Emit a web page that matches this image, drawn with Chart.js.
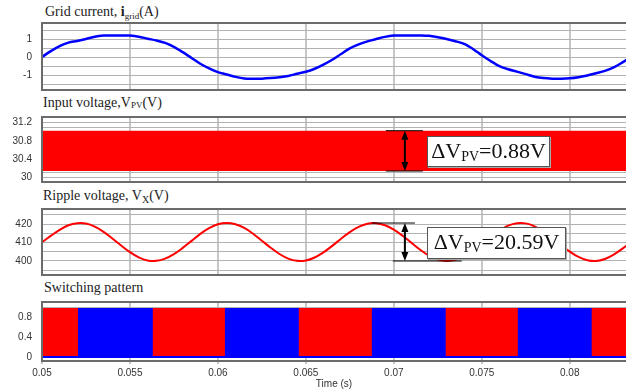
<!DOCTYPE html>
<html>
<head>
<meta charset="utf-8">
<script src="https://cdn.jsdelivr.net/npm/chart.js@4.4.1/dist/chart.umd.min.js"></script>
<style>
body { margin: 0; background: #fff; width: 626px; height: 390px; overflow: hidden; position: relative; font-family: "Liberation Serif", "Times New Roman", serif; }
canvas { position: absolute; left: 0; }
.ttl { position: absolute; font-size: 14px; line-height: 14px; color: #222; white-space: nowrap; }
.ttl sub { line-height: 0; }
.box { position: absolute; background: #fff; border: 1px solid #555; box-shadow: 1px 1px 0 #aaa; font-size: 22px; line-height: 28px; text-align: center; color: #111; white-space: nowrap; }
.box sub { font-size: 14px; line-height: 0; vertical-align: -3px; }
</style>
</head>
<body>
<div class="ttl" style="left:45px;top:5px">Grid current, <b>i</b><sub style="font-size:9px;vertical-align:-3px">grid</sub>(A)</div>
<div class="ttl" style="left:43px;top:96px">Input voltage,V<sub style="font-size:9px;vertical-align:-1px">PV</sub>(V)</div>
<div class="ttl" style="left:43px;top:189px">Ripple voltage, V<sub style="font-size:10px;vertical-align:-3px">X</sub>(V)</div>
<div class="ttl" style="left:44px;top:281px">Switching pattern</div>

<canvas id="c1" width="626" height="75" style="top:19px"></canvas>
<canvas id="c2" width="626" height="73" style="top:113px"></canvas>
<canvas id="c3" width="626" height="74" style="top:205px"></canvas>
<canvas id="c4" width="626" height="92" style="top:298px"></canvas>

<div class="box" style="left:427px;top:136px;width:121px;height:29px">ΔV<sub>PV</sub>=0.88V</div>
<div class="box" style="left:427px;top:227px;width:137px;height:30px">ΔV<sub>PV</sub>=20.59V</div>

<script>
// sampling of the traces
const t0 = 0.05;
const dt = 0.0005;
const xMin = 0.05;
const xMax = 0.0832;
const xTicks = [0.05, 0.055, 0.06, 0.065, 0.07, 0.075, 0.08];

// grid current (A), read every 0.5 ms
const gridCurrent = [
  0, 0.33, 0.61, 0.8, 0.89, 1.0, 1.13, 1.19, 1.2, 1.2,
  1.19, 1.13, 1.02, 0.92, 0.79, 0.57, 0.27, -0.05, -0.37, -0.63,
  -0.84, -0.97, -1.1, -1.19, -1.2, -1.2, -1.17, -1.12, -1.05, -0.93,
  -0.82, -0.65, -0.42, -0.15, 0.17, 0.48, 0.7, 0.87, 1.0, 1.12,
  1.19, 1.2, 1.2, 1.2, 1.18, 1.1, 1.0, 0.88, 0.73, 0.45,
  0.1, -0.22, -0.5, -0.68, -0.81, -0.95, -1.09, -1.17, -1.2, -1.2,
  -1.18, -1.12, -1.02, -0.9, -0.77, -0.58, -0.3, 0.0
];

// input voltage band (V)
const vpvHigh = 31.02;
const vpvLow = 30.14;

// ripple voltage (V), read every 0.5 ms
const rippleVoltage = [
  410.2, 413.6, 416.9, 419.4, 420.5, 420.3, 418.6, 415.8, 412.2, 408.4,
  404.8, 402.0, 400.3, 400.1, 401.3, 403.7, 407.1, 410.9, 414.7, 417.8,
  419.9, 420.6, 419.9, 417.9, 414.8, 411.0, 407.2, 403.8, 401.3, 400.1,
  400.3, 401.9, 404.7, 408.2, 412.1, 415.7, 418.5, 420.2, 420.5, 419.4,
  417.0, 413.7, 409.9, 406.1, 402.9, 400.8, 400.0, 400.6, 402.6, 405.7,
  409.4, 413.2, 416.6, 419.2, 420.5, 420.4, 418.8, 416.1, 412.5, 408.7,
  405.1, 402.2, 400.4, 400.0, 401.1, 403.5, 406.7, 410.5
];

// switching pattern: red leg on (1) / off (0) from each time on
const switchTimes = [0.05, 0.05205, 0.0563, 0.0604, 0.0646, 0.06875, 0.07295, 0.07705, 0.08125, 0.0832];
const switchState = [1, 0, 1, 0, 1, 0, 1, 0, 1, 1];
const swHigh = 1;
const swRedLow = 0.02;
const swBlueLow = -0.02;

const sampleTimes = gridCurrent.map((_, i) => t0 + i * dt);
const xy = (ts, vs) => ts.map((t, i) => ({ x: t, y: vs[i] }));

const tickFont = { family: 'Liberation Sans, Arial, sans-serif', size: 10 };

// frame around the plot area
const frame = {
  id: 'frame',
  afterDraw(chart) {
    const { ctx, chartArea: a } = chart;
    ctx.save();
    ctx.strokeStyle = '#6b6b6b';
    ctx.lineWidth = 2;
    ctx.beginPath();
    ctx.moveTo(a.right + 2, a.top);
    ctx.lineTo(a.left, a.top);
    ctx.lineTo(a.left, a.bottom);
    ctx.lineTo(a.right + 2, a.bottom);
    ctx.stroke();
    ctx.restore();
  }
};

// double arrow showing a peak-to-peak span
const span = {
  id: 'span',
  afterDatasetsDraw(chart, args, o) {
    if (!o || o.at === undefined) return;
    const { ctx, scales: { x, y } } = chart;
    const px = x.getPixelForValue(o.at);
    const yt = y.getPixelForValue(o.top);
    const yb = y.getPixelForValue(o.bottom);
    ctx.save();
    ctx.strokeStyle = '#000';
    ctx.fillStyle = '#000';
    ctx.lineWidth = 1;
    ctx.beginPath();
    ctx.moveTo(x.getPixelForValue(o.topFrom), yt);
    ctx.lineTo(x.getPixelForValue(o.topTo), yt);
    ctx.moveTo(x.getPixelForValue(o.botFrom), yb);
    ctx.lineTo(x.getPixelForValue(o.botTo), yb);
    ctx.stroke();
    ctx.lineWidth = 2;
    ctx.beginPath();
    ctx.moveTo(px, yt + 6);
    ctx.lineTo(px, yb - 6);
    ctx.stroke();
    ctx.beginPath();
    ctx.moveTo(px, yt); ctx.lineTo(px - 3.5, yt + 9); ctx.lineTo(px + 3.5, yt + 9);
    ctx.closePath(); ctx.fill();
    ctx.beginPath();
    ctx.moveTo(px, yb); ctx.lineTo(px - 3.5, yb - 9); ctx.lineTo(px + 3.5, yb - 9);
    ctx.closePath(); ctx.fill();
    ctx.restore();
  }
};

function panel(id, datasets, p) {
  const showX = !!p.showX;
  return new Chart(document.getElementById(id), {
    type: 'line',
    data: { datasets },
    options: {
      responsive: false,
      animation: false,
      events: [],
      layout: { padding: { top: 4, bottom: showX ? 0 : 4, left: 0, right: 0 } },
      plugins: { legend: { display: false }, tooltip: { enabled: false }, span: p.span || {} },
      elements: { point: { radius: 0 } },
      scales: {
        x: {
          type: 'linear', min: xMin, max: xMax,
          afterBuildTicks: s => { s.ticks = xTicks.map(v => ({ value: v })); },
          grid: { color: '#c6c6c6', lineWidth: 2, drawTicks: showX, tickLength: 3 },
          border: { display: false },
          ticks: { display: showX, padding: 3, autoSkip: false, maxRotation: 0, color: '#333', font: tickFont, callback: v => String(v) },
          title: { display: showX, text: 'Time (s)', color: '#333', font: tickFont, padding: { top: 1, bottom: 0 } },
          afterFit: s => { s.height = showX ? 29 : 0; s.paddingLeft = 0; s.paddingRight = 0; }
        },
        y: {
          min: p.min, max: p.max,
          afterBuildTicks: s => { s.ticks = p.grid.map(v => ({ value: v })); },
          grid: { color: '#b2b2b2', lineWidth: 1, drawTicks: false },
          border: { display: false },
          ticks: {
            padding: 10, autoSkip: false, color: '#333', font: tickFont,
            callback: v => p.labels.some(l => Math.abs(l - v) < 1e-9) ? String(+v.toFixed(2)) : ''
          },
          afterFit: s => { s.width = 42; s.paddingTop = 0; s.paddingBottom = 0; }
        }
      }
    },
    plugins: [frame, span]
  });
}

panel('c1', [{
  data: xy(sampleTimes, gridCurrent),
  borderColor: '#0000ff', borderWidth: 2.5, tension: 0.3, fill: false
}], {
  min: -1.83, max: 1.89,
  grid: [-1.5, -1, -0.5, 0, 0.5, 1, 1.5],
  labels: [-1, 0, 1]
});

panel('c2', [{
  data: [{ x: xMin, y: vpvHigh }, { x: xMax, y: vpvHigh }],
  borderWidth: 0, borderColor: '#ff0000', backgroundColor: '#ff0000', fill: { value: vpvLow }
}], {
  min: 29.9, max: 31.32,
  grid: [30, 30.1, 30.2, 30.3, 30.4, 30.5, 30.6, 30.7, 30.8, 30.9, 31, 31.1, 31.2, 31.3],
  labels: [30, 30.4, 30.8, 31.2],
  span: { at: 0.07063, top: vpvHigh, bottom: vpvLow, topFrom: 0.06955, topTo: 0.07165, botFrom: 0.06955, botTo: 0.07165 }
});

panel('c3', [{
  data: xy(sampleTimes, rippleVoltage),
  borderColor: '#ff0000', borderWidth: 2, tension: 0.35, fill: false
}], {
  min: 392.4, max: 428.2,
  grid: [395, 400, 405, 410, 415, 420, 425],
  labels: [400, 410, 420],
  span: { at: 0.07063, top: 420.59, bottom: 400, topFrom: 0.06875, topTo: 0.0712, botFrom: 0.06994, botTo: 0.07386 }
});

panel('c4', [{
  data: xy(switchTimes, switchState.map(s => s ? swHigh : swRedLow)),
  stepped: 'before', borderWidth: 0, borderColor: '#ff0000', backgroundColor: '#ff0000', fill: { value: swRedLow }
}, {
  data: [{ x: xMin, y: swHigh }, { x: xMax, y: swHigh }],
  borderWidth: 0, borderColor: '#0000ff', backgroundColor: '#0000ff', fill: { value: swBlueLow }
}], {
  min: -0.08, max: 1.12,
  grid: [0, 0.2, 0.4, 0.6, 0.8, 1.0],
  labels: [0, 0.4, 0.8],
  showX: true
});
</script>
</body>
</html>
